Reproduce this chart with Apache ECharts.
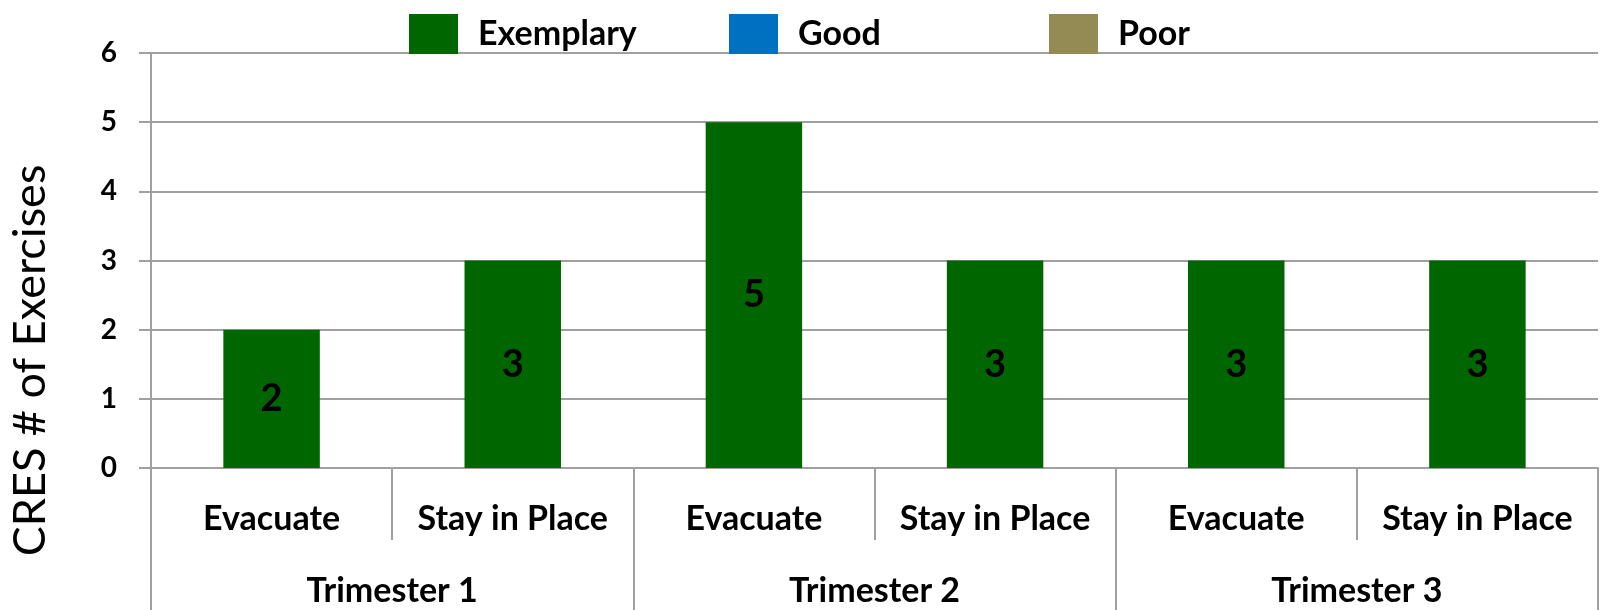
<!DOCTYPE html>
<html>
<head>
<meta charset="utf-8">
<script src="https://cdn.jsdelivr.net/npm/echarts@6/dist/echarts.min.js"></script>
<style>
  html, body { margin: 0; padding: 0; background: #fff; }
  #main { width: 1604px; height: 610px; }
</style>
</head>
<body>
<div id="main"></div>
<script>
// data
var actions = ['Evacuate', 'Stay in Place', 'Evacuate', 'Stay in Place', 'Evacuate', 'Stay in Place'];
var trimesters = ['Trimester 1', 'Trimester 2', 'Trimester 3'];
var exemplary = [2, 3, 5, 3, 3, 3];
var good = [null, null, null, null, null, null];
var poor = [null, null, null, null, null, null];
var yTicks = [0, 6, 1];   // min, max, interval

var font = 'Lato';
var gray = '#a0a0a0';

var myChart = echarts.init(document.getElementById('main'));

// one legend per entry so the three keys sit evenly apart like the original
function legendAt(name, left) {
    return {
        left: left,
        top: 9,
        itemWidth: 49,
        itemHeight: 40,
        icon: 'rect',
        textStyle: {
            fontFamily: font,
            fontWeight: 'bold',
            fontSize: 34,
            color: '#000',
            padding: [0, 0, 6, 15]
        },
        data: [name]
    };
}

var option = {
    animation: false,
    textStyle: { fontFamily: font },
    legend: [
        legendAt('Exemplary', 404),
        legendAt('Good', 724),
        legendAt('Poor', 1044)
    ],
    grid: {
        left: 148,
        right: 6,
        top: 53,
        bottom: 142
    },
    xAxis: [
        {
            type: 'category',
            data: actions,
            axisLine: { lineStyle: { color: gray, width: 2 } },
            axisTick: { show: true, interval: 0, length: 72, lineStyle: { color: gray, width: 2 } },
            axisLabel: {
                interval: 0,
                fontFamily: font,
                fontWeight: 'bold',
                fontSize: 34,
                color: '#000',
                margin: 34
            }
        },
        {
            type: 'category',
            position: 'bottom',
            data: trimesters,
            axisLine: { show: false },
            axisTick: { show: true, interval: 0, length: 145, lineStyle: { color: gray, width: 2 } },
            axisLabel: {
                interval: 0,
                fontFamily: font,
                fontWeight: 'bold',
                fontSize: 34,
                color: '#000',
                margin: 106
            }
        }
    ],
    yAxis: {
        type: 'value',
        min: yTicks[0],
        max: yTicks[1],
        interval: yTicks[2],
        name: 'CRES # of Exercises',
        nameLocation: 'middle',
        nameGap: 98,
        nameTextStyle: {
            fontFamily: font,
            fontSize: 45,
            color: '#000',
            padding: [0, 200, 0, 0]
        },
        axisLine: { show: true, lineStyle: { color: gray, width: 2 } },
        axisTick: { show: true, length: 12, lineStyle: { color: gray, width: 2 } },
        splitLine: { lineStyle: { color: gray, width: 2 } },
        axisLabel: {
            margin: 34,
            fontFamily: font,
            fontWeight: 'bold',
            fontSize: 28,
            color: '#000'
        }
    },
    series: [
        {
            name: 'Exemplary',
            type: 'bar',
            stack: 'total',
            barWidth: '40%',
            data: exemplary,
            itemStyle: { color: '#006600' },
            label: {
                show: true,
                position: 'inside',
                fontFamily: font,
                fontWeight: 'bold',
                fontSize: 38,
                color: '#000'
            }
        },
        {
            name: 'Good',
            type: 'bar',
            stack: 'total',
            data: good,
            itemStyle: { color: '#0070C0' }
        },
        {
            name: 'Poor',
            type: 'bar',
            stack: 'total',
            data: poor,
            itemStyle: { color: '#948A54' }
        }
    ]
};

myChart.setOption(option);
</script>
</body>
</html>
